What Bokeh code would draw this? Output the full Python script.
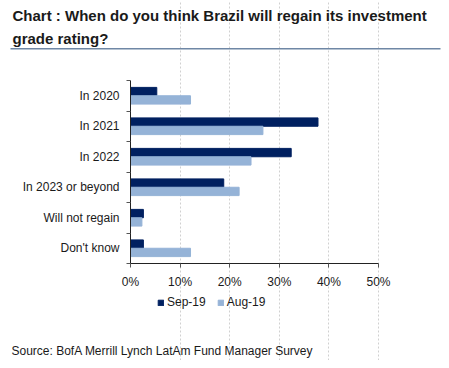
from bokeh.plotting import figure
from bokeh.models import (Range1d, LinearAxis, FixedTicker, Grid,
                          Label, Legend, LegendItem, ColumnDataSource, BoxAnnotation,
                          CustomJSTickFormatter)
from bokeh.transform import dodge
from bokeh.embed import file_html
from bokeh.resources import INLINE

categories = ["In 2020", "In 2021", "In 2022", "In 2023 or beyond", "Will not regain", "Don't know"]
sep19 = [5.3, 37.8, 32.4, 18.8, 2.6, 2.6]
aug19 = [12.1, 26.7, 24.3, 21.9, 2.3, 12.1]
series_names = ["Sep-19", "Aug-19"]
x_ticks = [0, 10, 20, 30, 40, 50]
title_lines = ["Chart : When do you think Brazil will regain its investment", "grade rating?"]
source_text = "Source: BofA Merrill Lynch LatAm Fund Manager Survey"

DARK = "#002060"
LIGHT = "#95b3d7"
FONT = "Liberation Sans"
TXT = "#1a1a1a"

# ---- layout (canvas pixels) ----
W, H = 441, 360
PLOT_L, PLOT_R = 130, 378      # plot area left/right on the canvas
PLOT_T, PLOT_B = 80, 263       # plot area top/bottom on the canvas
XMAX = x_ticks[-1]
n = len(categories)
px_per_x = (PLOT_R - PLOT_L) / XMAX
px_per_y = (PLOT_B - PLOT_T) / n
x_range = Range1d(-PLOT_L / px_per_x, (W - PLOT_L) / px_per_x)
y_range = Range1d(-(H - PLOT_B) / px_per_y, n + PLOT_T / px_per_y)

pos = [n - i - 0.5 for i in range(n)]  # first category at top
src = ColumnDataSource(dict(pos=pos, sep=sep19, aug=aug19))

p = figure(width=W, height=H, x_range=x_range, y_range=y_range,
           output_backend="svg", toolbar_location=None,
           x_axis_location=None, y_axis_location=None,
           min_border=0, min_border_left=0, min_border_right=0,
           min_border_top=0, min_border_bottom=0)
p.outline_line_color = None
p.background_fill_color = "white"
p.border_fill_color = "white"
p.xgrid.grid_line_color = None
p.ygrid.grid_line_color = None

# vertical dashed grid lines only inside the plot area
g = Grid(dimension=0, ticker=FixedTicker(ticks=x_ticks[1:]), bounds=(0, n),
         grid_line_color="#d0d0d0", grid_line_dash="2 2")
p.add_layout(g, "center")

r1 = p.hbar(y=dodge("pos", 0.137), right="sep", left=0, height=0.274,
            color=DARK, source=src)
r2 = p.hbar(y=dodge("pos", -0.137), right="aug", left=0, height=0.274,
            color=LIGHT, source=src)

# x axis drawn at y = 0
xa = LinearAxis(fixed_location=0, bounds=(0, XMAX), ticker=FixedTicker(ticks=x_ticks),
                formatter=CustomJSTickFormatter(code="return tick + '%';"),
                major_tick_in=0, major_tick_out=4, minor_tick_line_color=None,
                axis_line_color="#222222", major_tick_line_color="#555555",
                major_label_text_font=FONT, major_label_text_font_size="12px",
                major_label_text_color=TXT, major_label_standoff=7)
p.add_layout(xa, "below")

# y axis with ticks at category boundaries, drawn at x = 0
yb = LinearAxis(fixed_location=0, bounds=(0, n), ticker=FixedTicker(ticks=list(range(n + 1))),
                major_label_text_font_size="0px", major_label_standoff=0,
                major_tick_in=0, major_tick_out=4, minor_tick_line_color=None,
                axis_line_color="#222222", major_tick_line_color="#555555")
yb.major_label_overrides = {i: "" for i in range(n + 1)}
p.add_layout(yb, "left")

# y axis with category labels
ya = LinearAxis(fixed_location=0, bounds=(0, n), ticker=FixedTicker(ticks=pos),
                axis_line_color=None, major_tick_line_color=None,
                major_tick_out=0, major_tick_in=0, minor_tick_line_color=None,
                major_label_text_font=FONT, major_label_text_font_size="12px",
                major_label_text_color=TXT, major_label_standoff=11)
ya.major_label_overrides = {pv: c for pv, c in zip(pos, categories)}
p.add_layout(ya, "left")

# texts (screen units from the canvas bottom-left)
def sy(page_y):
    return H - page_y

def sx(page_x):
    return page_x

for i, t in enumerate(title_lines):
    p.add_layout(Label(x=sx(12), y=sy(15 + i * 23), x_units="screen", y_units="screen",
                       text=t, text_font=FONT, text_font_style="bold", text_font_size="15px",
                       text_baseline="middle", text_color=TXT))
p.add_layout(BoxAnnotation(left=sx(10), right=sx(440), top=sy(47.5), bottom=sy(49),
                           left_units="screen", right_units="screen",
                           top_units="screen", bottom_units="screen",
                           fill_color="#6f87a5", fill_alpha=1, line_color=None))
p.add_layout(Label(x=sx(11), y=sy(350), x_units="screen", y_units="screen", text=source_text,
                   text_font=FONT, text_font_size="12px", text_baseline="middle",
                   text_color=TXT))

legend = Legend(items=[LegendItem(label=series_names[0], renderers=[r1]),
                       LegendItem(label=series_names[1], renderers=[r2])],
                orientation="horizontal", location=(sx(157), sy(309)),
                glyph_width=7, glyph_height=7, label_text_font=FONT,
                label_text_font_size="12px", label_text_color=TXT,
                label_standoff=3, spacing=11, label_height=14,
                padding=0, margin=0, border_line_color=None, background_fill_alpha=0)
p.add_layout(legend, "center")

open("out.html", "w").write(file_html(p, INLINE))
